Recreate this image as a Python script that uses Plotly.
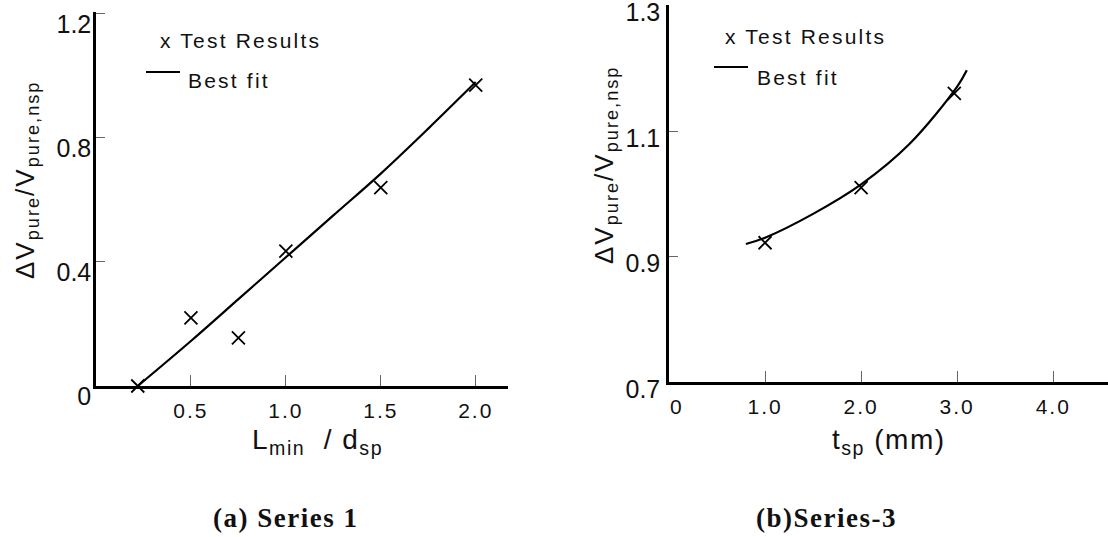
import plotly.graph_objects as go

# ---------------- data ----------------
# (a) Series 1
a_test_x = [0.22, 0.5, 0.75, 1.0, 1.5, 2.0]
a_test_y = [0.0, 0.22, 0.155, 0.435, 0.64, 0.97]
a_fit_x = [0.22, 0.5, 0.75, 1.0, 1.25, 1.5, 1.75, 2.0]
a_fit_y = [0.0, 0.145, 0.28, 0.415, 0.55, 0.685, 0.83, 0.98]
a_xticks = [0.5, 1.0, 1.5, 2.0]
a_xlabels = ["0.5", "1.0", "1.5", "2.0"]
a_yticks = [0, 0.4, 0.8, 1.2]
a_ylabels = ["0", "0.4", "0.8", "1.2"]

# (b) Series-3
b_test_x = [1.0, 2.0, 2.97]
b_test_y = [0.922, 1.01, 1.16]
b_fit_x = [0.8, 1.0, 1.5, 2.0, 2.5, 3.0, 3.1]
b_fit_y = [0.92, 0.93, 0.968, 1.015, 1.079, 1.171, 1.197]
b_xticks = [0, 1.0, 2.0, 3.0, 4.0]
b_xlabels = ["\u00a0\u00a00", "1.0", "2.0", "3.0", "4.0"]
b_yticks = [0.7, 0.9, 1.1, 1.3]
b_ylabels = ["0.7", "0.9", "1.1", "1.3"]

ytitle = ('<span style="letter-spacing:2px">\u0394V<sub>pure</sub>/V<sub>pure,nsp</sub></span>')
a_xtitle = '<span style="letter-spacing:1.5px">L<sub>min</sub>  / d<sub>sp</sub></span>'
b_xtitle = '<span style="letter-spacing:1.5px">t<sub>sp</sub> (mm)</span>'
a_caption = '<span style="letter-spacing:1.5px"><b>(a) Series 1</b></span>'
b_caption = '<span style="letter-spacing:1.5px"><b>(b)Series-3</b></span>'
leg_test = '<span style="letter-spacing:2.2px">x Test Results</span>'
leg_fit = '<span style="letter-spacing:2.2px">Best fit</span>'


def spaced(labels, sp):
    return ['<span style="letter-spacing:%spx">%s</span>' % (sp, t) for t in labels]


W, H = 1108, 537
SANS = "Liberation Sans, Arial, sans-serif"
SERIF = "Liberation Serif, Times New Roman, serif"


def px(x):
    return x / W


def py(y):
    return 1 - y / H


fig = go.Figure()

mk = dict(symbol="x-thin", size=13, color="black", line=dict(width=1.8, color="black"))

fig.add_trace(go.Scatter(x=a_fit_x, y=a_fit_y, mode="lines", line=dict(color="black", width=2.2, shape="spline"),
                         xaxis="x", yaxis="y", showlegend=False))
fig.add_trace(go.Scatter(x=a_test_x, y=a_test_y, mode="markers", marker=mk,
                         xaxis="x", yaxis="y", showlegend=False, cliponaxis=False))
fig.add_trace(go.Scatter(x=b_fit_x, y=b_fit_y, mode="lines", line=dict(color="black", width=2.2, shape="spline"),
                         xaxis="x2", yaxis="y2", showlegend=False))
fig.add_trace(go.Scatter(x=b_test_x, y=b_test_y, mode="markers", marker=mk,
                         xaxis="x2", yaxis="y2", showlegend=False, cliponaxis=False))

common_axis = dict(showgrid=False, zeroline=False, showline=True, linecolor="black", linewidth=2.5,
                   ticks="inside", tickcolor="#666", tickwidth=1, automargin=False,
                   ticklabeloverflow="allow", fixedrange=True)
xfont = dict(family=SANS, size=21, color="#111")
yfont = dict(family=SANS, size=25, color="#111")

fig.update_layout(
    template="none",
    width=W, height=H,
    margin=dict(l=0, r=0, t=0, b=0, pad=0, autoexpand=False),
    paper_bgcolor="white", plot_bgcolor="white",
    xaxis=dict(domain=[px(96), px(508)], range=[0, 2.17], anchor="y",
               tickmode="array", tickvals=a_xticks, ticktext=spaced(a_xlabels, 2), ticklen=11,
               tickfont=xfont, ticklabelstandoff=4, **common_axis),
    yaxis=dict(domain=[py(386), py(12)], range=[0, 1.206], anchor="x",
               tickmode="array", tickvals=a_yticks, ticktext=a_ylabels, ticklen=9,
               tickfont=yfont, ticklabelstandoff=-3, ticklabelshift=10, **common_axis),
    xaxis2=dict(domain=[px(669), 1.0], range=[0, 4.57], anchor="y2",
                tickmode="array", tickvals=b_xticks, ticktext=spaced(b_xlabels, 2), ticklen=11,
                tickfont=xfont, ticklabelstandoff=4, **common_axis),
    yaxis2=dict(domain=[py(382), py(5)], range=[0.7, 1.301], anchor="x2",
                tickmode="array", tickvals=b_yticks, ticktext=b_ylabels, ticklen=9,
                tickfont=yfont, ticklabelstandoff=1, ticklabelshift=7, **common_axis),
)

ann = []
# axis titles
ann.append(dict(x=px(26), y=py(180), text=ytitle, textangle=-90,
                font=dict(family=SANS, size=26, color="#111")))
ann.append(dict(x=px(605), y=py(165), text=ytitle, textangle=-90,
                font=dict(family=SANS, size=26, color="#111")))
ann.append(dict(x=px(317), y=py(441), text=a_xtitle, font=dict(family=SANS, size=28, color="#111")))
ann.append(dict(x=px(889), y=py(441), text=b_xtitle, font=dict(family=SANS, size=28, color="#111")))
# captions
ann.append(dict(x=px(285), y=py(518), text=a_caption, font=dict(family=SERIF, size=27, color="#111")))
ann.append(dict(x=px(826), y=py(518), text=b_caption, font=dict(family=SERIF, size=27, color="#111")))
# legend texts
ann.append(dict(x=px(158), y=py(40), text=leg_test, xanchor="left", font=dict(family=SANS, size=21, color="#111")))
ann.append(dict(x=px(186), y=py(80), text=leg_fit, xanchor="left", font=dict(family=SANS, size=21, color="#111")))
ann.append(dict(x=px(723), y=py(37), text=leg_test, xanchor="left", font=dict(family=SANS, size=21, color="#111")))
ann.append(dict(x=px(755), y=py(77), text=leg_fit, xanchor="left", font=dict(family=SANS, size=21, color="#111")))
for a in ann:
    a.update(xref="paper", yref="paper", showarrow=False)
    a.setdefault("xanchor", "center")
    a.setdefault("yanchor", "middle")
fig.update_layout(annotations=ann)

# legend line samples
fig.update_layout(shapes=[
    dict(type="line", xref="paper", yref="paper", x0=px(146), x1=px(180), y0=py(72), y1=py(72),
         line=dict(color="black", width=2)),
    dict(type="line", xref="paper", yref="paper", x0=px(714), x1=px(748), y0=py(67), y1=py(67),
         line=dict(color="black", width=2)),
])

fig.write_html("out.html", config={"displayModeBar": False},
               post_script="document.body.style.margin='0';document.body.style.overflow='hidden';")
